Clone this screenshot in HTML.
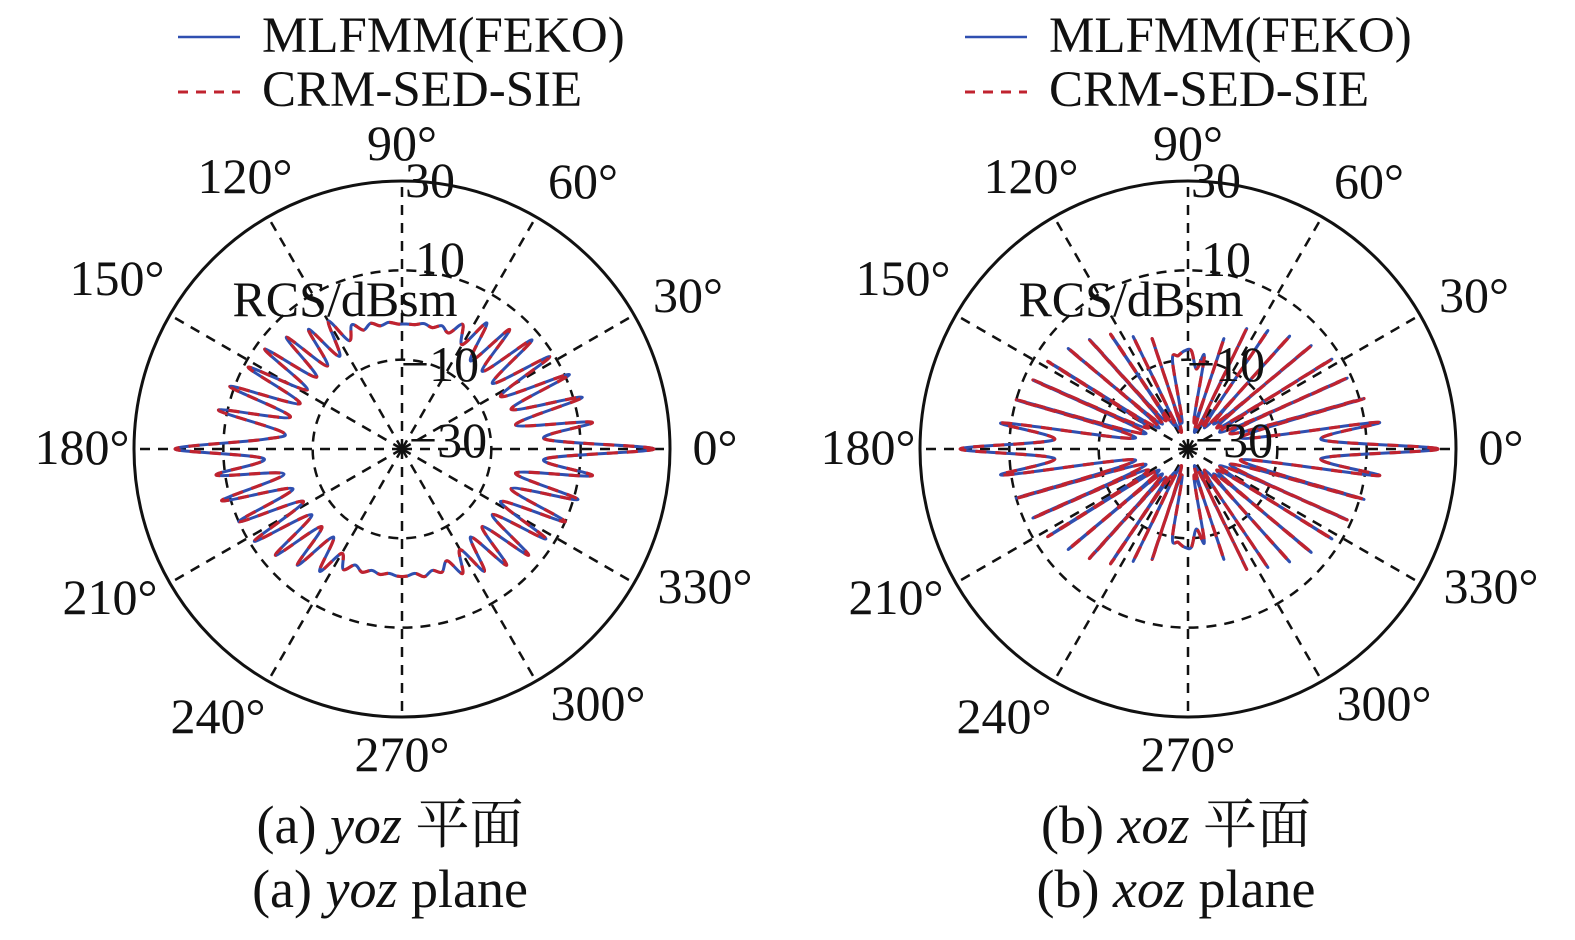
<!DOCTYPE html>
<html><head><meta charset="utf-8"><style>
html,body{margin:0;padding:0;background:#fff;}
svg text{font-family:"Liberation Serif","Noto Serif CJK SC",serif;fill:#111;}
</style></head><body>
<svg id="chart" width="1575" height="935" viewBox="0 0 1575 935" xmlns="http://www.w3.org/2000/svg">
<g id="plots"></g>
</svg>
<script>
const angleStep = 4;
const angleTicks = [0,30,60,90,120,150,180,210,240,270,300,330];
const radialTicks = [-30,-10,10,30];
const radialGrid = [-10,10];
const legendLabels = ["MLFMM(FEKO)","CRM-SED-SIE"];
const yozFeko = [26.4,2,13,-4,12,-4,11,-5,9,-5,8,-5,6,-5,4,-3,1,-2,-1,-2,-1.5,-2,-2,
 -2,-1.5,-2,-1,-2,0,-3,3,-5,4,-5,6,-5,8,-5,9,-5,11,-4,12,-3,1,
 20.8,
 1,12,-3,12,-4,10,-5,9,-5,7,-5,5,-5,3,-3,0,-2,-1,-2,-1.5,-2,-1.5,
 -1.5,-2,-1,-2,-1,-3,1,-4,3,-5,5,-5,7,-5,8,-5,10,-4,11,-4,13,2];
const yozCrm = [26.4,2,13,-4,12,-4,11,-5,9,-5,8,-5,6,-5,4,-3,1,-2,-1,-2,-1.5,-2,-2,
 -2,-1.5,-2,-1,-2,0,-3,3,-5,4,-5,6,-5,8,-5,9,-5,11,-4,12,-3,1,
 20.8,
 1,12,-3,12,-4,10,-5,9,-5,7,-5,5,-5,3,-3,0,-2,-1,-2,-1.5,-2,-1.5,
 -1.5,-2,-1,-2,-1,-3,1,-4,3,-5,5,-5,7,-5,8,-5,10,-4,11,-4,13,2];
const xozFeko = [26,0,13,-18,11,-20,9,-22,8,-22,6,-22,4,-24,2,-24,0,-26,-4,-24,-9,-12,-8,
 -8,-9,-10,-24,-4,-26,-2,-24,1,-22,3,-22,5,-22,7,-20,8,-20,10,-18,12,0,
 21,
 0,12,-18,10,-20,8,-20,7,-22,5,-22,3,-22,1,-24,-2,-26,-4,-24,-10,-9,-8,
 -8,-12,-9,-24,-4,-26,0,-24,2,-24,4,-22,6,-22,8,-22,9,-20,11,-18,13,0];
const xozCrm = [26,0,13,-18,11,-20,9,-22,8,-22,6,-22,4,-24,2,-24,0,-26,-4,-24,-9,-12,-8,
 -8,-9,-10,-24,-4,-26,-2,-24,1,-22,3,-22,5,-22,7,-20,8,-20,10,-18,12,0,
 21,
 0,12,-18,10,-20,8,-20,7,-22,5,-22,3,-22,1,-24,-2,-26,-4,-24,-10,-9,-8,
 -8,-12,-9,-24,-4,-26,0,-24,2,-24,4,-22,6,-22,8,-22,9,-20,11,-18,13,0];

const NS = "http://www.w3.org/2000/svg";
const root = document.getElementById("plots");
const R = 268, rMin = -30, rMax = 30;
function rScale(v){ return Math.max(0,(v - rMin)/(rMax - rMin)*R); }
function pt(cx,cy,deg,v){ const a=deg*Math.PI/180, r=rScale(v); return [cx+r*Math.cos(a), cy-r*Math.sin(a)]; }
function mk(tag, attrs, parent){ const e=document.createElementNS(NS,tag); for(const k in attrs) e.setAttribute(k,attrs[k]); parent.appendChild(e); return e; }
function smoothPath(pts){
  const n=pts.length; let d="M"+pts[0][0].toFixed(1)+","+pts[0][1].toFixed(1);
  for(let i=0;i<n;i++){
    const p0=pts[(i-1+n)%n],p1=pts[i],p2=pts[(i+1)%n],p3=pts[(i+2)%n];
    const c1=[p1[0]+(p2[0]-p0[0])/6,p1[1]+(p2[1]-p0[1])/6];
    const c2=[p2[0]-(p3[0]-p1[0])/6,p2[1]-(p3[1]-p1[1])/6];
    d+="C"+c1[0].toFixed(1)+","+c1[1].toFixed(1)+" "+c2[0].toFixed(1)+","+c2[1].toFixed(1)+" "+p2[0].toFixed(1)+","+p2[1].toFixed(1);
  }
  return d+"Z";
}
const labelPos = {0:[715,464],30:[688,312],60:[583,198],90:[402,160],120:[245,193],150:[117,295],180:[82,464],210:[110,614],240:[218,733],270:[402,771],300:[598,720],330:[705,603]};
const radialLabelPos = {"-30":[448,457],"-10":[440,381],"10":[440,276],"30":[430,197]};

function drawPlot(cx, seriesA, seriesB, idx, caption1, caption2, legendX){
  const dx = cx - 402;
  const g = mk("g",{},root);
  
  
  const lg = mk("g",{},g);
  
  
  const l1 = mk("line",{x1:legendX,y1:37,x2:legendX+62,y2:37,stroke:"#2f4fb0","stroke-width":2.5},lg);
  
  
  const t1 = mk("text",{x:legendX+84,y:52,"font-size":51},lg); t1.textContent=legendLabels[0];
  
  
  const l2 = mk("line",{x1:legendX,y1:92,x2:legendX+62,y2:92,stroke:"#c0232f","stroke-width":3,"stroke-dasharray":"10 8"},lg);
  
  
  const t2 = mk("text",{x:legendX+84,y:106,"font-size":51},lg); t2.textContent=legendLabels[1];
  
  
  radialGrid.forEach(v=>{
    const c = mk("circle",{cx:cx,cy:449,r:rScale(v),fill:"none",stroke:"#111","stroke-width":2.5,"stroke-dasharray":"10 8"},g);
    
    
  });
  angleTicks.forEach(a=>{
    const p = pt(cx,449,a,rMax);
    const s = mk("line",{x1:cx,y1:449,x2:p[0],y2:p[1],stroke:"#111","stroke-width":2.5,"stroke-dasharray":"10 8"},g);
    
    
  });
  const oc = mk("circle",{cx:cx,cy:449,r:R,fill:"none",stroke:"#111","stroke-width":3},g);
  
  
  const ptsA = seriesA.map((v,i)=>pt(cx,449,i*angleStep,v));
  const ptsB = seriesB.map((v,i)=>pt(cx,449,i*angleStep,v));
  const pa = mk("path",{d:smoothPath(ptsA),fill:"none",stroke:"#2f4fb0","stroke-width":3},g);
  
  
  const pb = mk("path",{d:smoothPath(ptsB),fill:"none",stroke:"#c0232f","stroke-width":3.2,"stroke-dasharray":"11 9"},g);
  
  
  angleTicks.forEach(a=>{
    const p = labelPos[a];
    const t = mk("text",{x:p[0]+dx,y:p[1],"font-size":50,"text-anchor":"middle"},g);
    t.textContent = a+"°";
    
    
  });
  radialTicks.forEach(v=>{
    const p = radialLabelPos[String(v)];
    const t = mk("text",{x:p[0]+dx,y:p[1],"font-size":50,"text-anchor":"middle"},g);
    t.textContent = v<0 ? "−"+Math.abs(v) : String(v);
    
    
  });
  const rt = mk("text",{x:345+dx,y:316,"font-size":50,"text-anchor":"middle"},g);
  rt.textContent = "RCS/dBsm";
  
  
  const c1 = mk("text",{x:cx-12,y:843,"font-size":54,"text-anchor":"middle"},g);
  c1.innerHTML = caption1;
  
  
  const c2 = mk("text",{x:cx-12,y:907,"font-size":54,"text-anchor":"middle"},g);
  c2.innerHTML = caption2;
  
  
}
drawPlot(402, yozFeko, yozCrm, "yoz", '(a) <tspan font-style="italic">yoz</tspan> 平面', '(a) <tspan font-style="italic">yoz</tspan> plane', 178);
drawPlot(1188, xozFeko, xozCrm, "xoz", '(b) <tspan font-style="italic">xoz</tspan> 平面', '(b) <tspan font-style="italic">xoz</tspan> plane', 965);
</script>
</body></html>
